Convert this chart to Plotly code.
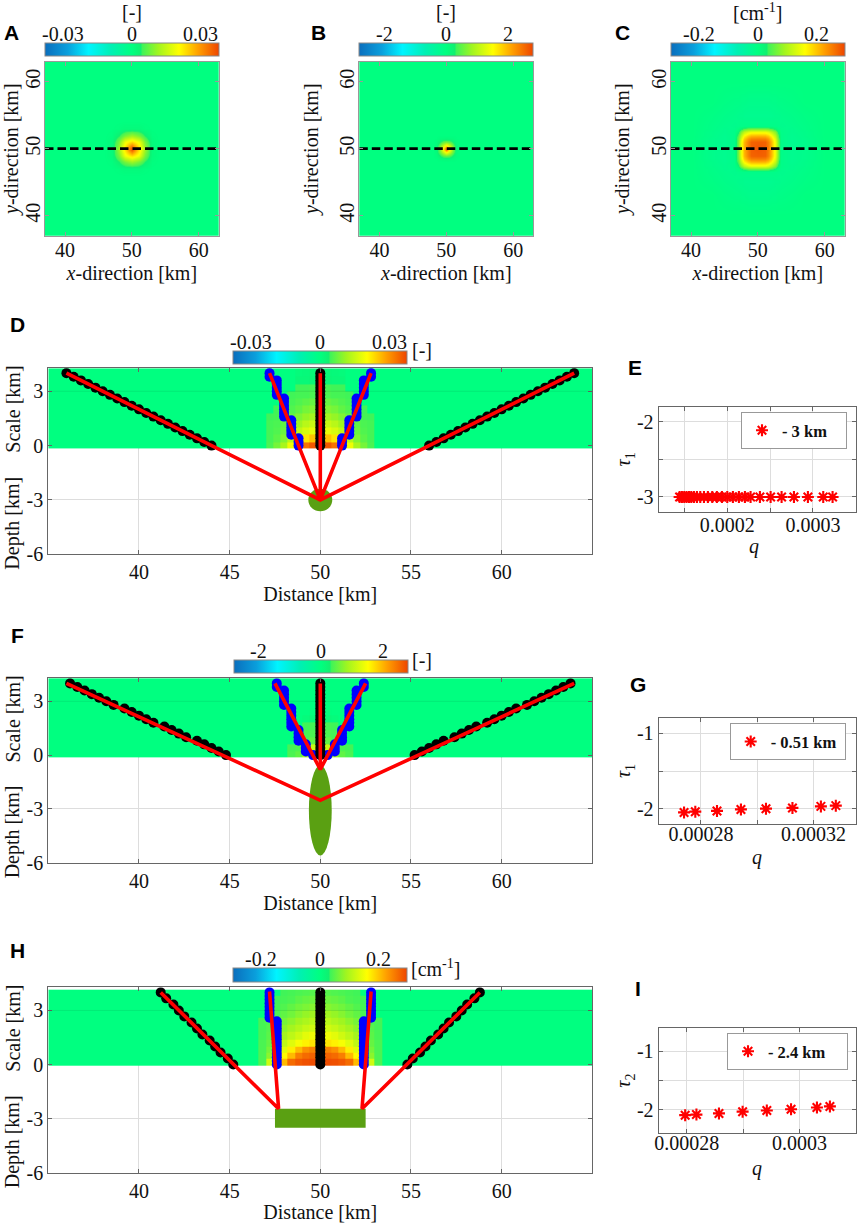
import plotly.graph_objects as go

# ---------- data ----------
QUAD_A_OFFSETS = [0, 1, 2, 3, 4]
QUAD_A = [[1.0, .62, .30, .03, 0], [.62, .50, .22, .03, 0], [.30, .22, .10, .01, 0], [.03, .03, .01, 0, 0], [0, 0, 0, 0, 0]]
QUAD_B_OFFSETS = [0, .5, 1, 1.5, 2]
QUAD_B = [[1.0, .60, .2, .04, 0], [.60, .42, .17, .03, 0], [.2, .17, .07, .02, 0], [.04, .03, .02, 0, 0], [0, 0, 0, 0, 0]]
QUAD_C_OFFSETS = [0, 1, 1.5, 2, 2.5, 3, 3.5, 5, 7, 10]
QUAD_C = [
    [.95, .93, .85, .72, .50, .22, -.04, -.07, -.05, 0],
    [.93, .92, .84, .71, .50, .22, -.04, -.07, -.05, 0],
    [.85, .84, .78, .66, .46, .20, -.04, -.07, -.05, 0],
    [.72, .71, .66, .56, .38, .16, -.04, -.07, -.04, 0],
    [.50, .50, .46, .38, .25, .07, -.04, -.06, -.04, 0],
    [.22, .22, .20, .16, .07, -.01, -.05, -.06, -.03, 0],
    [-.04, -.04, -.04, -.04, -.04, -.05, -.06, -.05, -.03, 0],
    [-.07, -.07, -.07, -.07, -.06, -.06, -.05, -.04, -.02, 0],
    [-.05, -.05, -.05, -.04, -.04, -.03, -.03, -.02, 0, 0],
    [0, 0, 0, 0, 0, 0, 0, 0, 0, 0],
]
LIM_A, LIM_B, LIM_C = 0.0378, 2.8, 0.295
TICKS_A = [-0.03, 0, 0.03]
TICKS_B = [-2, 0, 2]
TICKS_C = [-0.2, 0, 0.2]

HEAT_X_EDGES = [35, 46.2, 46.6, 47.0, 47.4, 47.8, 48.2, 48.6, 49.0, 49.4, 49.8, 50.2, 50.6, 51.0, 51.4, 51.8, 52.2, 52.6, 53.0, 53.4, 53.8, 65]
HEAT_D_Y = [-.17, .2, .6, 1.0, 1.4, 1.8, 2.2, 2.6, 3.0, 3.4, 3.8, 4.26]
HEAT_F_Y = [-.15, .2, .6, 1.0, 1.4, 1.8, 2.2, 2.6, 3.0, 3.4, 3.8, 4.28]
HEAT_H_Y = [-.04, .3, .65, 1.0, 1.4, 1.8, 2.2, 2.6, 3.0, 3.4, 3.8, 4.15]
HALF_D = [
    [.95, .95, .88, .70, .50, .32, .22, .14, 0, 0],
    [.70, .68, .60, .50, .36, .24, .17, .13, 0, 0],
    [.50, .48, .44, .38, .28, .20, .15, .13, 0, 0],
    [.42, .40, .36, .30, .24, .18, .14, .13, 0, 0],
    [.33, .31, .28, .24, .19, .15, .13, .12, 0, 0],
    [.25, .24, .22, .18, .15, .13, .12, 0, 0, 0],
    [.20, .19, .17, .15, .13, .12, 0, 0, 0, 0],
    [.14, .14, .13, .13, .12, 0, 0, 0, 0, 0],
    [.13, .13, .12, .12, 0, 0, 0, 0, 0, 0],
    [.06, .06, .05, .05, 0, 0, 0, 0, 0, 0],
    [.05, .05, .04, .03, 0, 0, 0, 0, 0, 0],
]
HALF_F = [
    [.65, .55, .30, .18, .14, 0, 0, 0, 0, 0],
    [.50, .40, .22, .14, .13, 0, 0, 0, 0, 0],
    [.22, .18, .14, .13, 0, 0, 0, 0, 0, 0],
    [.14, .14, .13, 0, 0, 0, 0, 0, 0, 0],
    [.13, .13, .12, 0, 0, 0, 0, 0, 0, 0],
    [.06, .05, .03, 0, 0, 0, 0, 0, 0, 0],
    [.01, .01, 0, 0, 0, 0, 0, 0, 0, 0],
    [0, 0, 0, 0, 0, 0, 0, 0, 0, 0],
    [0, 0, 0, 0, 0, 0, 0, 0, 0, 0],
    [0, 0, 0, 0, 0, 0, 0, 0, 0, 0],
    [0, 0, 0, 0, 0, 0, 0, 0, 0, 0],
]
HALF_H = [
    [.98, .98, .97, .95, .90, .70, .55, .42, .14, 0],
    [.92, .92, .90, .85, .70, .55, .42, .26, .14, 0],
    [.85, .84, .80, .70, .58, .46, .34, .22, .14, 0],
    [.62, .60, .57, .52, .46, .38, .29, .19, .14, 0],
    [.52, .50, .47, .42, .37, .31, .24, .17, .13, 0],
    [.44, .42, .39, .35, .31, .26, .20, .16, .13, 0],
    [.38, .36, .33, .30, .26, .22, .17, .14, .13, 0],
    [.32, .30, .28, .25, .21, .18, .14, .13, 0, 0],
    [.27, .25, .23, .21, .18, .15, .13, .12, 0, 0],
    [.22, .20, .19, .17, .14, .13, .12, 0, 0, 0],
    [.17, .16, .15, .14, .13, .12, 0, 0, 0, 0],
]

SCALE_21 = [0, .2, .4, .6, .8, 1.0, 1.2, 1.4, 1.6, 1.8, 2.0, 2.2, 2.4, 2.6, 2.8, 3.0, 3.2, 3.4, 3.6, 3.8, 4.0]
SCALE_13 = [0, .33, .67, 1.0, 1.33, 1.67, 2.0, 2.33, 2.67, 3.0, 3.33, 3.67, 4.0]

D_BLACK_L = [44.0, 43.6, 43.2, 42.8, 42.4, 42.0, 41.6, 41.2, 40.8, 40.4, 40.0, 39.6, 39.2, 38.8, 38.4, 38.0, 37.6, 37.2, 36.8, 36.4, 36.0]
D_BLACK_R = [56.0, 56.4, 56.8, 57.2, 57.6, 58.0, 58.4, 58.8, 59.2, 59.6, 60.0, 60.4, 60.8, 61.2, 61.6, 62.0, 62.4, 62.8, 63.2, 63.6, 64.0]
D_BLUE_L = [48.8, 48.8, 48.8, 48.4, 48.4, 48.4, 48.4, 48.4, 48.0, 48.0, 48.0, 48.0, 48.0, 48.0, 47.6, 47.6, 47.6, 47.6, 47.6, 47.2, 47.2]
D_BLUE_R = [51.2, 51.2, 51.2, 51.6, 51.6, 51.6, 51.6, 51.6, 52.0, 52.0, 52.0, 52.0, 52.0, 52.0, 52.4, 52.4, 52.4, 52.4, 52.4, 52.8, 52.8]
F_BLACK_L = [44.8, 44.4, 44.0, 43.6, 43.2, 42.6, 42.2, 41.8, 41.4, 40.8, 40.4, 40.0, 39.6, 39.2, 38.6, 38.2, 37.8, 37.4, 37.0, 36.6, 36.2]
F_BLACK_R = [55.2, 55.6, 56.0, 56.4, 56.8, 57.4, 57.8, 58.2, 58.6, 59.2, 59.6, 60.0, 60.4, 60.8, 61.4, 61.8, 62.2, 62.6, 63.0, 63.4, 63.8]
F_BLUE_L = [49.6, 49.2, 49.2, 49.2, 48.8, 48.8, 48.8, 48.8, 48.4, 48.4, 48.4, 48.4, 48.4, 48.4, 48.0, 48.0, 48.0, 48.0, 48.0, 47.6, 47.6]
F_BLUE_R = [50.4, 50.8, 50.8, 50.8, 51.2, 51.2, 51.2, 51.2, 51.6, 51.6, 51.6, 51.6, 51.6, 51.6, 52.0, 52.0, 52.0, 52.0, 52.0, 52.4, 52.4]
H_BLACK_L = [45.2, 44.9, 44.5, 44.2, 43.9, 43.5, 43.2, 42.9, 42.5, 42.2, 41.9, 41.5, 41.2]
H_BLACK_R = [54.8, 55.1, 55.5, 55.8, 56.1, 56.5, 56.8, 57.1, 57.5, 57.8, 58.1, 58.5, 58.8]
H_BLUE_L = [47.6, 47.6, 47.6, 47.6, 47.6, 47.6, 47.6, 47.6, 47.6, 47.6, 47.6, 47.6, 47.6, 47.2, 47.2, 47.2, 47.2, 47.2, 47.2, 47.2, 47.2]
H_BLUE_R = [52.4, 52.4, 52.4, 52.4, 52.4, 52.4, 52.4, 52.4, 52.4, 52.4, 52.4, 52.4, 52.4, 52.8, 52.8, 52.8, 52.8, 52.8, 52.8, 52.8, 52.8]
CENTER_21 = [50] * 21

D_RAYS = [([36, 50, 64], [4, -3, 4]), ([47.2, 50, 52.8], [4, -3, 4]), ([50, 50], [4, -3])]
F_RAYS = [([36, 50, 64], [4, -2.52, 4]), ([47.5, 50, 52.5], [4, -.8, 4]), ([50, 50], [4, -.8])]
H_RAYS = [([41.2, 47.7, 47.2], [4, -2.45, 4.05]), ([58.8, 52.3, 52.8], [4, -2.45, 4.05])]

E_Q = [.0001444, .0001471, .0001498, .0001525, .0001553, .000158, .0001611, .0001646, .0001685, .0001728, .0001774, .0001825, .0001879, .0001938, .0002, .0002066, .0002136, .0002206, .0002272, .0002381, .0002506, .0002634, .0002778, .0002941, .000312, .0003229]
E_TAU = [-3] * 26
G_Q = [.000274, .000278, .0002857, .0002942, .0003031, .0003125, .0003226, .0003279]
G_TAU = [-2.05, -2.04, -2.03, -2.01, -2.0, -1.99, -1.97, -1.96]
I_Q = [.0002797, .0002817, .0002857, .0002899, .0002942, .0002985, .0003031, .0003054]
I_TAU = [-2.09, -2.08, -2.06, -2.03, -2.01, -1.99, -1.96, -1.94]

# ---------- style ----------
W, H = 858, 1223
SERIF = "Liberation Serif"
FS = 20
CS = [[0, "#0A6EBD"], [.13, "#0A9FDC"], [.25, "#00F4FF"], [.38, "#00F0B4"], [.5, "#00FF80"], [.55, "#10F070"],
      [.56, "#40F458"], [.65, "#A0F520"], [.77, "#FFFF00"], [.88, "#FFA000"], [1, "#EE4500"]]
ZERO = "#00FF80"
RED, BLUE = "#FF0000", "#0000FF"
GREEN = "#5AA012"


def dom_x(a, b):
    return [a / W, b / W]


def dom_y(top, bottom):
    return [1 - bottom / H, 1 - top / H]


def mirror(quad):
    """Expand one typed quadrant into the whole symmetric field."""
    rows = [list(r[:0:-1]) + list(r) for r in quad]
    return rows[:0:-1] + rows


def full_row(half):
    return [0] + list(half[:0:-1]) + list(half) + [0]


fig = go.Figure()
layout = dict(annotations=[], shapes=[])


def colorbar(x0, x1, top, bot, ticks):
    return dict(orientation="h", x=x0 / W, xanchor="left", y=1 - top / H, yanchor="top",
                lenmode="pixels", len=x1 - x0, thicknessmode="pixels", thickness=bot - top,
                xpad=0, ypad=0, outlinecolor="#888", outlinewidth=1, ticks="",
                tickvals=ticks, showticklabels=False)


def note(text, x, y, size=FS, family=SERIF, angle=0, color="#111", bold=False):
    layout["annotations"].append(dict(text=f"<b>{text}</b>" if bold else text, x=x / W, y=1 - y / H, xref="paper", yref="paper",
                                      showarrow=False, xanchor="center", yanchor="middle", textangle=angle,
                                      font=dict(family=family, size=size, color=color)))


def cb_labels(x0, x1, top, ticks, lim):
    for t in ticks:
        note(str(t), x0 + (x1 - x0) * (t + lim) / (2 * lim), top - 9)


def axis(domain, rng, tickvals, anchor, title=None, standoff=None, frame="#666", grid=True, angle=0, minor=None, lab=0):
    d = dict(domain=domain, range=rng, anchor=anchor, tickvals=tickvals, ticktext=[str(t) for t in tickvals],
             ticks="inside", ticklen=4, ticklabelstandoff=lab,
             tickcolor=frame, showline=True, linecolor=frame, linewidth=1.2, mirror="allticks", zeroline=False,
             showgrid=grid, gridcolor="#DDDDDD", gridwidth=1, tickangle=angle,
             tickfont=dict(family=SERIF, size=FS, color="#111"))
    if minor:
        d["minor"] = dict(tickvals=minor, ticks="inside", ticklen=4, tickcolor=frame, showgrid=grid, gridcolor="#DDDDDD")
    if title:
        d["title"] = dict(text=title, standoff=standoff, font=dict(family=SERIF, size=FS, color="#111"))
    return d


# ---------- top row ----------
tops = [
    ("", 45, 218.7, QUAD_A_OFFSETS, QUAD_A, LIM_A, TICKS_A, "[-]", 132),
    ("2", 359.3, 533.3, QUAD_B_OFFSETS, QUAD_B, LIM_B, TICKS_B, "[-]", 446),
    ("3", 671, 844.7, QUAD_C_OFFSETS, QUAD_C, LIM_C, TICKS_C, "[cm<sup>-1</sup>]", 757),
]
for suf, x0, x1, offs, quad, lim, ticks, unit, ucx in tops:
    xa, ya = f"x{suf}", f"y{suf}"
    coords = [50 - o for o in offs[:0:-1]] + [50 + o for o in offs]
    z = [[v * lim for v in r] for r in mirror(quad)]
    fig.add_trace(go.Heatmap(x=coords, y=coords, z=z, zmin=-lim, zmax=lim, colorscale=CS, zsmooth="best",
                             colorbar=colorbar(x0, x1, 43, 55.7, ticks), xaxis=xa, yaxis=ya, hoverinfo="skip"))
    fig.add_trace(go.Scatter(x=[37, 63], y=[50, 50], mode="lines", line=dict(color="black", width=2.7, dash="8.5px,4px"),
                             xaxis=xa, yaxis=ya, showlegend=False))
    layout[f"xaxis{suf}"] = axis(dom_x(x0, x1), [37, 63], [40, 50, 60], ya, "<i>x</i>-direction [km]", 6, "#999", False, lab=-4)
    layout[f"yaxis{suf}"] = axis(dom_y(61.7, 235.7), [37, 63], [40, 50, 60], xa, "<i>y</i>-direction [km]", 12, "#999", False, -90, lab=-4)
    note(unit, ucx, 12)
    cb_labels(x0, x1, 43, ticks, lim)
    layout["shapes"].append(dict(type="rect", xref=f"{xa} domain", yref=f"{ya} domain", x0=0, x1=1, y0=0, y1=1,
                                 fillcolor=ZERO, line_width=0, layer="below"))

# ---------- section panels ----------
X_T = [40, 45, 50, 55, 60]
Y_T = [-6, -3, 0, 3]
sections = [
    ("4", 367.7, 554.3, HEAT_D_Y, HALF_D, LIM_A, TICKS_A, (233, 407, 351.3, 364.3), "[-]", 422, 350,
     D_BLUE_L, D_BLUE_R, SCALE_21, D_BLACK_L, D_BLACK_R, SCALE_21, D_RAYS, ("circle", 49.34, 50.66, -3.62, -2.38)),
    ("5", 678, 862.7, HEAT_F_Y, HALF_F, LIM_B, TICKS_B, (234, 408, 660, 672.7), "[-]", 422, 660,
     F_BLUE_L, F_BLUE_R, SCALE_21, F_BLACK_L, F_BLACK_R, SCALE_21, F_RAYS, ("circle", 49.37, 50.63, -5.6, -.57)),
    ("6", 987, 1172.7, HEAT_H_Y, HALF_H, LIM_C, TICKS_C, (232.7, 407, 968.3, 982), "[cm<sup>-1</sup>]", 435, 968,
     H_BLUE_L, H_BLUE_R, SCALE_21, H_BLACK_L, H_BLACK_R, SCALE_13, H_RAYS, ("rect", 47.5, 52.5, -3.5, -2.45)),
]
for suf, top, bot, hy, half, lim, ticks, cb, unit, ux, uy, bl, br, bs, kl, kr, ks, rays, src in sections:
    xa, ya = f"x{suf}", f"y{suf}"
    z = [[v * lim for v in full_row(r)] for r in half]
    fig.add_trace(go.Heatmap(x=HEAT_X_EDGES, y=hy, z=z, zmin=-lim, zmax=lim, colorscale=CS,
                             colorbar=colorbar(cb[0], cb[1], cb[2], cb[3], ticks), xaxis=xa, yaxis=ya, hoverinfo="skip"))
    for xs, ss, color in [(bl, bs, BLUE), (br, bs, BLUE), (kl, ks, "black"), (kr, ks, "black"), (CENTER_21, SCALE_21, "black")]:
        fig.add_trace(go.Scatter(x=xs, y=ss, mode="markers", marker=dict(color=color, size=10), xaxis=xa, yaxis=ya, showlegend=False))
    for rx, ry in rays:
        fig.add_trace(go.Scatter(x=rx, y=ry, mode="lines", line=dict(color=RED, width=3.6), xaxis=xa, yaxis=ya, showlegend=False))
    layout[f"xaxis{suf}"] = axis(dom_x(48.3, 592.3), [35, 65], X_T, ya, "Distance [km]", 4)
    layout[f"yaxis{suf}"] = axis(dom_y(top, bot), [-6, 4.3], Y_T, xa)
    layout["shapes"].append(dict(type=src[0], xref=xa, yref=ya, x0=src[1], x1=src[2], y0=src[3], y1=src[4],
                                 fillcolor=GREEN, line_width=0, layer="between"))
    for t in X_T:
        layout["shapes"].append(dict(type="line", xref=xa, yref=ya, x0=t, x1=t, y0=hy[0], y1=hy[-1], layer="between",
                                     line=dict(color="rgba(0,0,0,0.08)", width=1)))
    layout["shapes"].append(dict(type="line", xref=xa, yref=ya, x0=35, x1=65, y0=3, y1=3, layer="above",
                                 line=dict(color="rgba(0,0,0,0.08)", width=1)))
    note(unit, ux, uy)
    cb_labels(cb[0], cb[1], cb[2], ticks, lim)
    h = bot - top
    note("Scale [km]", 12.7, top + h * 0.221, angle=-90)
    note("Depth [km]", 12.7, top + h * 0.832, angle=-90)

# ---------- scatter panels ----------
scatters = [
    ("7", "legend", 406.7, 512, E_Q, E_TAU, "- 3 km", [.00012, .00035], [-3.2, -1.8], [.0002, .0003], [.00015, .00025],
     [-3, -2], [-2.5], "<i>τ</i><sub>1</sub>", (741, 412), 59, -5, (754, 546)),
    ("8", "legend2", 718.3, 823.7, G_Q, G_TAU, "- 0.51 km", [.000265, .000335], [-2.2, -.8], [.00028, .00032], [.0003],
     [-2, -1], [-1.5], "<i>τ</i><sub>1</sub>", (729.7, 723.3), 69, -8, (757, 857)),
    ("9", "legend3", 1028, 1133.3, I_Q, I_TAU, "- 2.4 km", [.000275, .00031], [-2.4, -.6], [.00028, .0003], [.00029],
     [-2, -1], [-1.5], "<i>τ</i><sub>2</sub>", (727, 1033), 74, -8, (757, 1168)),
]
for suf, leg, top, bot, q, tau, name, xr, yr, xt, xm, yt, ym, ytitle, lpos, ew, lab, qpos in scatters:
    xa, ya = f"x{suf}", f"y{suf}"
    fig.add_trace(go.Scatter(x=q, y=tau, mode="markers", name=name, legend=leg, xaxis=xa, yaxis=ya, showlegend=True,
                             marker=dict(symbol="asterisk-open", size=10, color=RED, line=dict(color=RED, width=2.1))))
    layout[f"xaxis{suf}"] = axis(dom_x(658.7, 855.8), xr, xt, ya, minor=xm, lab=lab)
    layout[f"yaxis{suf}"] = axis(dom_y(top, bot), yr, yt, xa, ytitle, 0, minor=ym)
    note("<i>q</i>", qpos[0], qpos[1])
    layout[leg] = dict(x=lpos[0] / W, y=1 - lpos[1] / H, xanchor="left", yanchor="top", bgcolor="white", bordercolor="#999",
                       borderwidth=1, orientation="h", entrywidth=ew, entrywidthmode="pixels",
                       font=dict(family=SERIF, size=16.5, color="#111", weight="bold"))

# ---------- panel letters ----------
for t, x, y in [("A", 11, 33), ("B", 318, 33), ("C", 622, 33), ("D", 17, 324), ("E", 635, 367),
                ("F", 17, 636), ("G", 638, 684), ("H", 17, 950), ("I", 638, 988)]:
    note(t, x, y, 21, "Liberation Sans", bold=True, color="black")

fig.update_layout(**layout)
fig.update_layout(width=W, height=H, margin=dict(l=0, r=0, t=0, b=0, autoexpand=False), paper_bgcolor="white",
                  plot_bgcolor="white", showlegend=True)
fig.write_html("out.html", config={"displayModeBar": False}, post_script="document.body.style.margin='0';")
